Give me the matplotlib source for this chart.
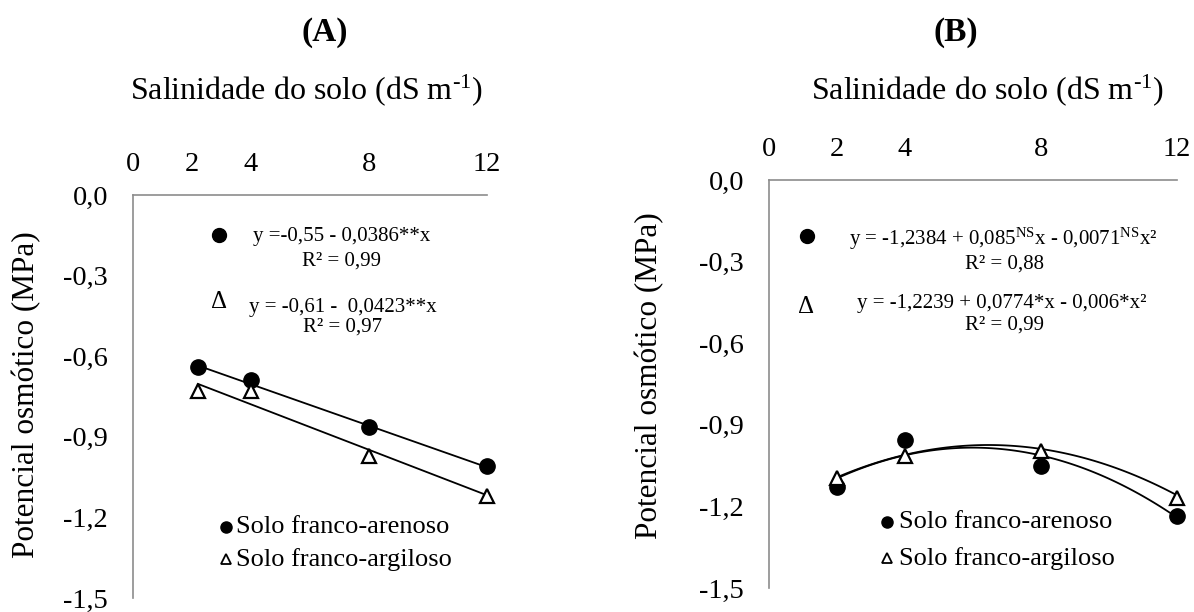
import numpy as np
import matplotlib
matplotlib.use("Agg")
import matplotlib.pyplot as plt

plt.rcParams["font.family"] = ["Liberation Serif", "DejaVu Serif"]
plt.rcParams["mathtext.fontset"] = "custom"
plt.rcParams["mathtext.rm"] = "Liberation Serif"
plt.rcParams["mathtext.it"] = "Liberation Serif:italic"

# salinity levels (dS m-1)
x_a = [2.2, 4, 8, 12]
x_b = [2, 4, 8, 12]

# osmotic potential (MPa)
arenoso_a = [-0.64, -0.69, -0.865, -1.01]
argiloso_a = [-0.73, -0.73, -0.97, -1.12]
arenoso_b = [-1.13, -0.955, -1.05, -1.235]
argiloso_b = [-1.095, -1.015, -0.995, -1.17]

# regression coefficients (c0, c1, c2)
fit_arenoso_a = [-0.55, -0.0386, 0.0]
fit_argiloso_a = [-0.61, -0.0423, 0.0]
fit_arenoso_b = [-1.2384, 0.085, -0.0071]
fit_argiloso_b = [-1.2239, 0.0774, -0.006]

x_ticks = [0, 2, 4, 8, 12]
y_ticks = [0.0, -0.3, -0.6, -0.9, -1.2, -1.5]
y_ticklabels = ["0,0", "-0,3", "-0,6", "-0,9", "-1,2", "-1,5"]

W, H = 1194, 612
fig = plt.figure(figsize=(W / 100, H / 100), dpi=100)


def box(x0, y0, x1, y1):
    # pixel box (from top-left) to figure fraction
    return [x0 / W, 1 - y1 / H, (x1 - x0) / W, (y1 - y0) / H]


def ftext(x, y, s, **kw):
    fig.text(x / W, 1 - y / H, s, ha="center", va="center", **kw)


def curve(coef, x0, x1):
    xs = np.linspace(x0, x1, 100)
    return xs, coef[0] + coef[1] * xs + coef[2] * xs ** 2


def setup(ax):
    ax.set_xlim(0, 12)
    ax.set_ylim(-1.5, 0)
    ax.xaxis.tick_top()
    ax.set_xticks(x_ticks)
    ax.set_xticklabels([str(t) for t in x_ticks])
    ax.set_yticks(y_ticks)
    ax.set_yticklabels(y_ticklabels)
    ax.tick_params(length=0, labelsize=20.5)
    ax.tick_params(axis="x", pad=13)
    ax.tick_params(axis="y", pad=18)
    for s in ["right", "bottom"]:
        ax.spines[s].set_visible(False)
    for s in ["top", "left"]:
        ax.spines[s].set_color("#8c8c8c")
        ax.spines[s].set_linewidth(1.2)


def points(ax, xs, circ, tri):
    ax.plot(xs, circ, "o", color="black", ms=11, zorder=3, clip_on=False)
    ax.plot(xs, tri, "^", mfc="white", mec="black", mew=1.6, ms=10, zorder=3,
            clip_on=False)


def legend(ax, x, y1, y2):
    ax.plot([x], [y1], "o", color="black", ms=8, clip_on=False)
    ax.plot([x], [y2], "^", mfc="white", mec="black", mew=1.3, ms=7, clip_on=False)
    ax.text(x + 0.35, y1, "Solo franco-arenoso", fontsize=19, va="center")
    ax.text(x + 0.35, y2, "Solo franco-argiloso", fontsize=19, va="center")


# (A) linear fits
ax1 = fig.add_axes(box(133, 195, 487, 598))
setup(ax1)
for coef in (fit_arenoso_a, fit_argiloso_a):
    xs, ys = curve(coef, x_a[0], x_a[-1])
    ax1.plot(xs, ys, color="black", lw=1.3, clip_on=False)
points(ax1, x_a, arenoso_a, argiloso_a)
ax1.plot([2.92], [-0.149], "o", color="black", ms=10)
ax1.text(2.92, -0.40, "Δ", fontsize=18, ha="center", va="center")
ax1.text(7.08, -0.156, "y =-0,55 - 0,0386**x", fontsize=15, ha="center", va="center")
ax1.text(7.08, -0.246, "R² = 0,99", fontsize=15, ha="center", va="center")
ax1.text(7.12, -0.417, "y = -0,61 -  0,0423**x", fontsize=15, ha="center", va="center")
ax1.text(7.12, -0.491, "R² = 0,97", fontsize=15, ha="center", va="center")
legend(ax1, 3.15, -1.236, -1.355)

# (B) quadratic fits
ax2 = fig.add_axes(box(769, 180, 1177, 588))
setup(ax2)
for coef in (fit_arenoso_b, fit_argiloso_b):
    xs, ys = curve(coef, x_b[0], x_b[-1])
    ax2.plot(xs, ys, color="black", lw=1.3, clip_on=False)
points(ax2, x_b, arenoso_b, argiloso_b)
ax2.plot([1.12], [-0.205], "o", color="black", ms=10)
ax2.text(1.08, -0.467, "Δ", fontsize=18, ha="center", va="center")
ax2.text(6.9, -0.215, r"y = -1,2384 + 0,085$^{\mathregular{NS}}$x - 0,0071$^{\mathregular{NS}}$x²",
         fontsize=15, ha="center", va="center")
ax2.text(6.94, -0.31, "R² = 0,88", fontsize=15, ha="center", va="center")
ax2.text(6.85, -0.455, "y = -1,2239 + 0,0774*x - 0,006*x²", fontsize=15, ha="center", va="center")
ax2.text(6.94, -0.535, "R² = 0,99", fontsize=15, ha="center", va="center")
legend(ax2, 3.47, -1.257, -1.39)

ylabel = "Potencial osmótico (MPa)"
fig.text(27 / W, 1 - 395 / H, ylabel, rotation=90, fontsize=22.5, ha="center", va="center")
fig.text(650 / W, 1 - 376 / H, ylabel, rotation=90, fontsize=22.5, ha="center", va="center")

xlabel = r"Salinidade do solo (dS m$^{\text{-1}}$)"
ftext(325, 32, "(A)", fontsize=24, fontweight="bold")
ftext(306, 90, xlabel, fontsize=23)
ftext(956, 32, "(B)", fontsize=24, fontweight="bold")
ftext(987, 90, xlabel, fontsize=23)

fig.savefig("out.png", dpi=100)
